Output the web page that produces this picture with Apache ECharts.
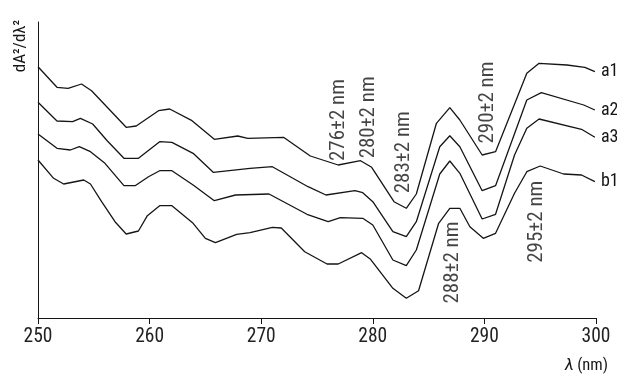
<!DOCTYPE html>
<html>
<head>
<meta charset="utf-8">
<script src="https://cdn.jsdelivr.net/npm/echarts@6/dist/echarts.min.js"></script>
<style>html,body{margin:0;padding:0;background:#fff}#c{width:617px;height:374px}</style>
</head>
<body>
<div id="c"></div>
<script>
// Wavelength (nm) and relative second-derivative values (arbitrary units)
const a1X = [250,251.7,252.7,253.9,254.8,257.9,258.8,260.8,261.8,263.8,265.8,267.9,268.8,272,274.4,276.9,278.9,279.9,281.9,283,283.9,285.7,286.9,287.8,289.8,291,293.8,294.9,297.4,299,299.9];
const a1Y = [251.3,230.7,229.7,234,227.3,190.7,192,207.3,209,197.3,178.7,182,179.7,180.7,162,153,157.3,150.7,116.3,109.7,124,194.7,210.3,198,163,166.3,244.7,254.7,253,250.7,246.3];

const a2X = [250,251.7,253.1,253.8,254.9,256.2,257.7,259,260.9,262,263.9,265.7,269,271,274.2,275.8,278.4,279.1,280,281.8,283,283.9,286,286.9,287.8,289.8,291,293.8,295.1,298.9,299.9];
const a2Y = [215.7,197,196.3,199.7,194,177.3,159.7,159.7,176.3,175.7,164.7,145.7,149.7,151.3,131.3,123,127.3,125.3,116.3,86.3,81.3,96.3,171.3,182.3,171.3,127.3,132.3,218,225.3,213,208];

const a3X = [250,251.7,252.9,253.7,254.7,256,257.7,258.7,259.9,260.9,262,263.9,265.8,267.7,270.7,274.1,276,277.1,279.1,280,281.8,283,283.9,286,286.9,287.8,289.8,291,292.7,293.8,294.9,298.7,299.9];
const a3Y = [184,169.7,168,171.3,166.3,154.7,132.3,132.3,141.3,147.3,147.3,133,117.3,123,124,103.7,96.3,100.3,99.7,93,58,52.3,68,144,157,144.7,99,103.7,163,189.7,199,188.7,180.7];

const b1X = [250,251.4,252.3,254.1,254.7,255.7,256.9,257.9,259,259.8,260.9,262,263.9,265,265.9,267.8,269,271,271.8,273.9,275.9,276.9,279,279.8,281.8,283,284.1,285.9,286.9,287.8,288.7,289.9,291,292.7,293.8,295,297.1,298.7,299.9];
const b1Y = [158,139.7,134,138,134,116.3,96.3,84,87,102.3,112.3,112.3,94.7,79.7,75.3,83.7,85.3,90.7,90,66.3,54,54,65.3,58.7,29.7,19.7,27.3,94.7,109.7,109.7,91.3,79.7,84.7,124.7,146.3,152,144,143,136.3];

const seriesNames = ['a1','a2','a3','b1'];
const xTicks = [250,260,270,280,290,300];

// Band annotations: text, wavelength anchor, value anchor
const noteText = ['276\u00b12 nm','280\u00b12 nm','283\u00b12 nm','290\u00b12 nm','288\u00b12 nm','295\u00b12 nm'];
const noteX = [276.97,279.66,282.8,290.28,287.14,294.71];
const noteY = [198,200.7,165.8,215.5,55.5,96.3];

const FONT = 'Roboto';
const STRETCH = 'condensed';
const INK = '#151515';
const zip = (xs, ys) => xs.map((x, i) => [x, ys[i]]);
const allX = [a1X, a2X, a3X, b1X];
const allY = [a1Y, a2Y, a3Y, b1Y];

const chart = echarts.init(document.getElementById('c'), null, {renderer: 'canvas'});
chart.setOption({
  animation: false,
  grid: {left: 38, right: 21, top: 22, bottom: 56},
  xAxis: {
    type: 'value', min: 250, max: 300, interval: 10,
    axisLine: {show: true, lineStyle: {color: INK, width: 1}},
    axisTick: {show: true, length: 6, lineStyle: {color: INK}},
    axisLabel: {color: '#222', fontFamily: FONT, fontWeight: STRETCH, fontSize: 19.5, margin: 9,
      formatter: v => xTicks.includes(v) ? String(v) : ''},
    splitLine: {show: false}
  },
  yAxis: {
    type: 'value', min: 0, max: 296,
    axisLine: {show: true, lineStyle: {color: INK, width: 1}},
    axisTick: {show: false}, axisLabel: {show: false}, splitLine: {show: false}
  },
  series: seriesNames.map((n, i) => ({
    name: n, type: 'line', data: zip(allX[i], allY[i]),
    symbol: 'none', lineStyle: {color: INK, width: 1.3},
    endLabel: {show: true, formatter: n, color: INK, fontFamily: FONT, fontWeight: STRETCH, fontSize: 18, distance: 6}
  })).concat([{
    name: 'notes', type: 'scatter', symbolSize: 0,
    data: noteText.map((t, i) => ({value: [noteX[i], noteY[i]], name: t})),
    label: {show: true, position: 'inside', rotate: 90, formatter: p => p.name,
      color: INK, fontFamily: FONT, fontWeight: STRETCH, fontSize: 21, align: 'center', verticalAlign: 'middle'}
  }]),
  graphic: [
    {type: 'text', x: 21, y: 46, rotation: Math.PI / 2,
      style: {text: 'dA\u00b2/d\u03bb\u00b2', fill: INK, fontFamily: FONT, fontWeight: STRETCH, fontSize: 17, align: 'center', verticalAlign: 'middle'}},
    {type: 'text', x: 608, y: 366,
      style: {rich: {i: {fontStyle: 'italic', fontSize: 16.5, fontFamily: FONT, fill: INK}, n: {fontSize: 16.5, fontFamily: FONT, fontWeight: STRETCH, fill: INK}},
        text: '{i|\u03bb} {n|(nm)}', align: 'right', verticalAlign: 'middle'}}
  ]
});
</script>
</body>
</html>
